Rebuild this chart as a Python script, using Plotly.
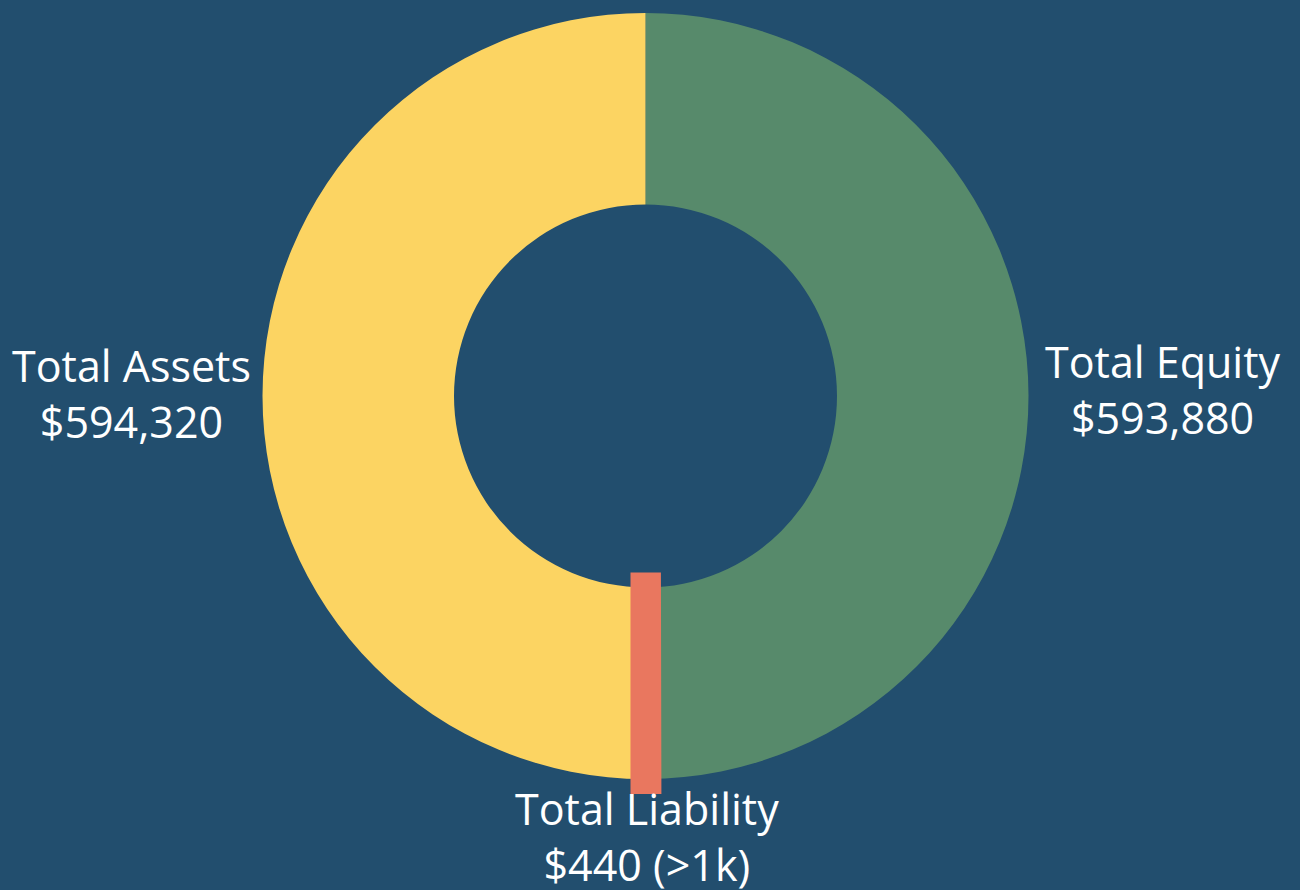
import plotly.graph_objects as go

# Data
categories = ["Total Equity", "Total Assets", "Total Liability"]
values = [593880, 594320, 440]
notes = ["", "", " (>1k)"]
colors = ["#578A6B", "#FCD462", "#E9775F"]
line_widths = [0, 0, 30]

# label placement (paper coords) for each category
label_x = [1163 / 1300, 131 / 1300, 647 / 1300]
label_y = [1 - 389 / 890, 1 - 394 / 890, 1 - 836 / 890]

texts = [f"{c}<br>${v:,}{n}" for c, v, n in zip(categories, values, notes)]

fig = go.Figure(
    go.Pie(
        labels=categories,
        values=values,
        textinfo="none",
        hole=0.5,
        sort=False,
        direction="counterclockwise",
        rotation=0,
        automargin=False,
        marker=dict(colors=colors, line=dict(color=colors, width=line_widths)),
        showlegend=False,
        hoverinfo="label+value",
        domain=dict(x=[0, 1291 / 1300], y=[(890 - 779) / 890, (890 - 13) / 890]),
    )
)

for t, x, y in zip(texts, label_x, label_y):
    fig.add_annotation(
        text=t, x=x, y=y, xref="paper", yref="paper",
        xanchor="center", yanchor="middle", align="center",
        showarrow=False,
        font=dict(family="Open Sans", size=43, color="white"),
    )

fig.update_layout(
    width=1300,
    height=890,
    margin=dict(l=0, r=0, t=0, b=0, autoexpand=False),
    paper_bgcolor="#224E6E",
    plot_bgcolor="#224E6E",
)

post = (
    "document.body.style.margin='0';"
    "document.body.style.overflow='hidden';"
    "var fixJ=()=>document.querySelectorAll('path.surface').forEach(p=>p.style.strokeLinejoin='miter');"
    "fixJ();setTimeout(fixJ,50);setTimeout(fixJ,300);"
)

fig.write_html("out.html", post_script=post, config={"displayModeBar": False})
